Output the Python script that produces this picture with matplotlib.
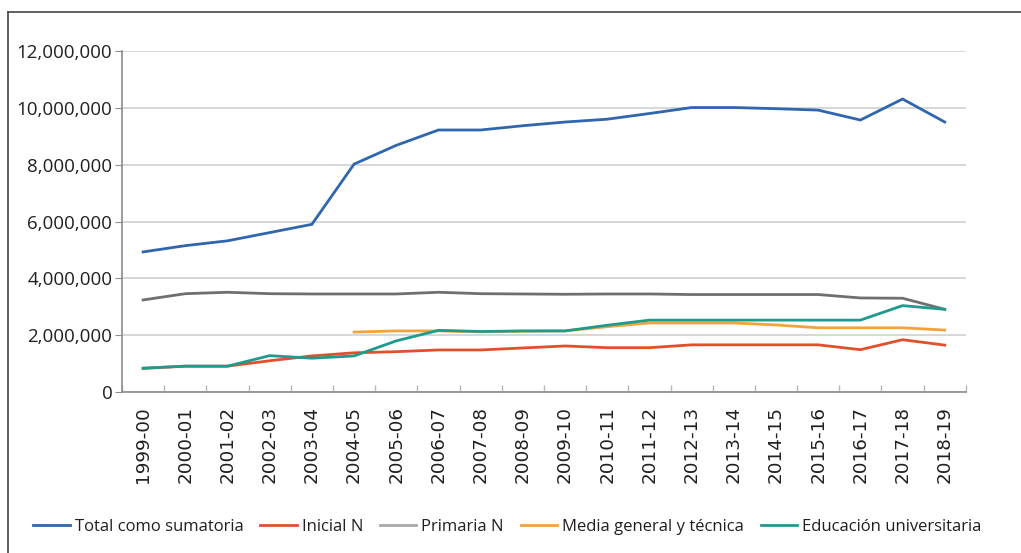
import numpy as np
import matplotlib
matplotlib.use("Agg")
import matplotlib.pyplot as plt
from matplotlib.lines import Line2D
from matplotlib.ticker import FuncFormatter, MultipleLocator

plt.rcParams["font.family"] = ["Open Sans", "DejaVu Sans"]

# data
years = ["1999-00", "2000-01", "2001-02", "2002-03", "2003-04", "2004-05",
         "2005-06", "2006-07", "2007-08", "2008-09", "2009-10", "2010-11",
         "2011-12", "2012-13", "2013-14", "2014-15", "2015-16", "2016-17",
         "2017-18", "2018-19"]
total = [4.93, 5.15, 5.32, 5.61, 5.90, 8.02, 8.68, 9.22, 9.22, 9.37,
         9.50, 9.60, 9.80, 10.01, 10.01, 9.97, 9.92, 9.57, 10.31, 9.50]
inicial = [0.83, 0.91, 0.91, 1.10, 1.27, 1.38, 1.42, 1.48, 1.48, 1.55,
           1.62, 1.56, 1.56, 1.66, 1.66, 1.66, 1.66, 1.49, 1.84, 1.65]
primaria = [3.24, 3.46, 3.51, 3.46, 3.45, 3.45, 3.45, 3.51, 3.46, 3.45,
            3.44, 3.45, 3.45, 3.43, 3.43, 3.43, 3.43, 3.31, 3.30, 2.91]
media = [np.nan, np.nan, np.nan, np.nan, np.nan, 2.11, 2.15, 2.15, 2.12, 2.14,
         2.15, 2.30, 2.43, 2.43, 2.43, 2.36, 2.26, 2.26, 2.26, 2.18]
universitaria = [0.84, 0.91, 0.91, 1.28, 1.19, 1.27, 1.80, 2.17, 2.13, 2.15,
                 2.15, 2.35, 2.53, 2.53, 2.53, 2.53, 2.53, 2.53, 3.04, 2.91]

series = [
    ("Total como sumatoria", total, "#2f66ad"),
    ("Inicial N", inicial, "#e1502c"),
    ("Primaria N", primaria, "#6d6f70"),
    ("Media general y técnica", media, "#f2a33a"),
    ("Educación universitaria", universitaria, "#1f9a8c"),
]

fig = plt.figure(figsize=(10.21, 5.53), dpi=100)
ax = fig.add_axes([0.1195, 0.2911, 0.8265, 0.6167])

x = np.arange(len(years))
for name, vals, col in series:
    ax.plot(x, np.array(vals) * 1e6, color=col, lw=2.0, label=name,
            solid_joinstyle="miter", zorder=3)

ax.set_xlim(-0.5, len(years) - 0.5)
ax.set_ylim(0, 12e6)
ax.yaxis.set_major_locator(MultipleLocator(2e6))
ax.yaxis.set_major_formatter(FuncFormatter(lambda v, p: f"{int(v):,}"))
ax.grid(axis="y", color="#d3d6d6", lw=1.3, zorder=0)

ax.set_xticks(x)
ax.set_xticklabels(years, rotation=90, family="DejaVu Sans")
ax.set_xticks(np.arange(-0.5, len(years)), minor=True)
ax.tick_params(axis="x", which="major", length=0, pad=10, labelsize=13.2, colors="#231f20")
ax.tick_params(axis="x", which="minor", direction="in", length=5, color="#b5b8b8", width=1)
ax.tick_params(axis="y", length=5, color="#8a8d8d", labelsize=13.5, labelcolor="#231f20", pad=2)

for s in ["top", "right"]:
    ax.spines[s].set_visible(False)
ax.spines["left"].set_color("#8a8d8d")
ax.spines["bottom"].set_color("#8a8d8d")
ax.spines["left"].set_linewidth(1.2)
ax.spines["bottom"].set_linewidth(1.2)

leg = fig.legend(loc="center", bbox_to_anchor=(0.497, 0.047), ncol=5, frameon=False,
                 fontsize=12, handlelength=2.2, columnspacing=1.0, handletextpad=0.3)
for t in leg.get_texts():
    t.set_color("#231f20")
leg.legend_handles[2].set_color("#a7a9ab")

# outer frame
fig.add_artist(Line2D([0.008, 1.0], [0.979, 0.979], color="#444444", lw=1.2))
fig.add_artist(Line2D([0.008, 0.008], [0.0, 0.979], color="#444444", lw=1.2))

fig.savefig("out.png", dpi=100)
